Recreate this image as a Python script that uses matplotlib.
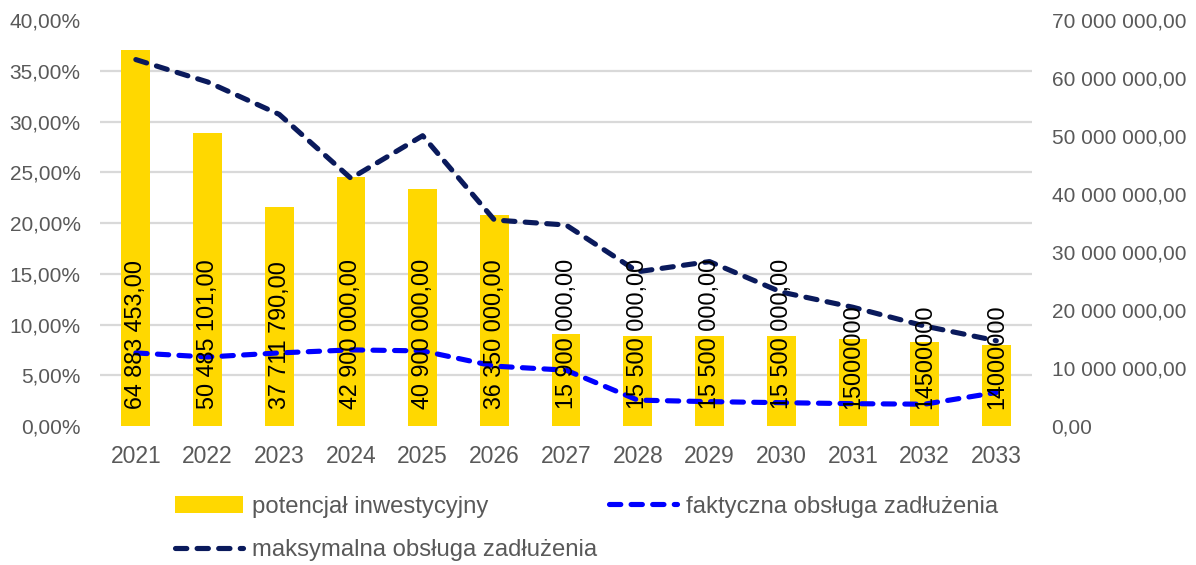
import matplotlib
matplotlib.use("Agg")
import matplotlib.pyplot as plt
from matplotlib.ticker import FuncFormatter, MultipleLocator

plt.rcParams['font.family'] = ['Liberation Sans', 'DejaVu Sans']

years = ['2021', '2022', '2023', '2024', '2025', '2026', '2027',
         '2028', '2029', '2030', '2031', '2032', '2033']
potencjal = [64883453, 50485101, 37711790, 42900000, 40900000, 36350000,
             15900000, 15500000, 15500000, 15500000, 15000000, 14500000, 14000000]
bar_labels = ['64 883 453,00', '50 485 101,00', '37 711 790,00', '42 900 000,00',
              '40 900 000,00', '36 350 000,00', '15 900 000,00', '15 500 000,00',
              '15 500 000,00', '15 500 000,00', '15000000', '14500000', '14000000']
faktyczna = [7.2, 6.8, 7.2, 7.5, 7.4, 5.9, 5.5, 2.55, 2.4, 2.3, 2.2, 2.15, 3.3]
maksymalna = [36.1, 33.9, 30.7, 24.4, 28.6, 20.3, 19.8, 15.2, 16.2, 13.2, 11.7, 9.85, 8.4]

GREY = '#595959'
FS_Y = 15
FS_X = 16.5
FS_LAB = 16.8
FS_LEG = 17.2

fig = plt.figure(figsize=(11.96, 5.65), dpi=100)
ax = fig.add_axes([0.0836, 0.246, 0.7794, 0.7186])
ax2 = ax.twinx()

x = list(range(len(years)))
LMAX = 40
RMAX = 70e6

# bars on right axis
bars = ax2.bar(x, potencjal, width=0.4, color='#FFD800', zorder=2,
               label='potencjał inwestycyjny')
ax2.set_ylim(0, RMAX)
ax2.yaxis.set_major_locator(MultipleLocator(10e6))
def fmt_pln(v, pos):
    return f"{v:,.2f}".replace(",", " ").replace(".", ",")
ax2.yaxis.set_major_formatter(FuncFormatter(fmt_pln))
# gridlines follow the left axis ticks (0..40 step 5) but sit behind bars
ax2.set_yticks([RMAX * k / 8 for k in range(9)], minor=True)
ax2.grid(axis='y', which='minor', color='#D9D9D9', linewidth=1.6, zorder=0)
ax2.grid(axis='y', which='major', visible=False)
ax2.set_axisbelow(True)

# lines on left axis
dash = (0, (2.2, 2.0))
l_fakt, = ax.plot(x, faktyczna, color='#0000FF', linewidth=3.7,
                  linestyle=dash, dash_capstyle='round',
                  label='faktyczna obsługa zadłużenia', zorder=3)
l_maks, = ax.plot(x, maksymalna, color='#0A1A5C', linewidth=3.7,
                  linestyle=dash, dash_capstyle='round',
                  label='maksymalna obsługa zadłużenia', zorder=3)
ax.set_ylim(0, LMAX)
ax.yaxis.set_major_locator(MultipleLocator(5))
ax.yaxis.set_major_formatter(FuncFormatter(lambda v, p: f"{v:.2f}".replace(".", ",") + "%"))
ax.set_xlim(-0.5, len(years) - 0.5)
ax.set_xticks(x)
ax.set_xticklabels(years)

ax.set_zorder(ax2.get_zorder() + 1)
ax.patch.set_visible(False)

for i, lab in enumerate(bar_labels):
    ax.annotate(lab, xy=(i, 0), xytext=(0, 12), textcoords='offset points',
                rotation=90, ha='center', va='bottom', fontsize=FS_LAB,
                color='black', zorder=5)

for a in (ax, ax2):
    for s in a.spines.values():
        s.set_visible(False)
    a.tick_params(which='both', length=0, colors=GREY)
ax.tick_params(axis='y', pad=14, labelsize=FS_Y)
ax2.tick_params(axis='y', pad=14, labelsize=FS_Y)
ax.tick_params(axis='x', pad=14, labelsize=FS_X)

leg = fig.legend(handles=[bars, l_maks, l_fakt],
                 labels=['potencjał inwestycyjny', 'maksymalna obsługa zadłużenia',
                         'faktyczna obsługa zadłużenia'],
                 ncol=2, loc='upper left', bbox_to_anchor=(0.146, 0.123),
                 frameon=False, fontsize=FS_LEG, handlelength=2.85,
                 handletextpad=0.38, columnspacing=0.5, labelspacing=0.9,
                 borderpad=0, borderaxespad=0)
for t in leg.get_texts():
    t.set_color(GREY)

fig.savefig('out.png', dpi=100)
